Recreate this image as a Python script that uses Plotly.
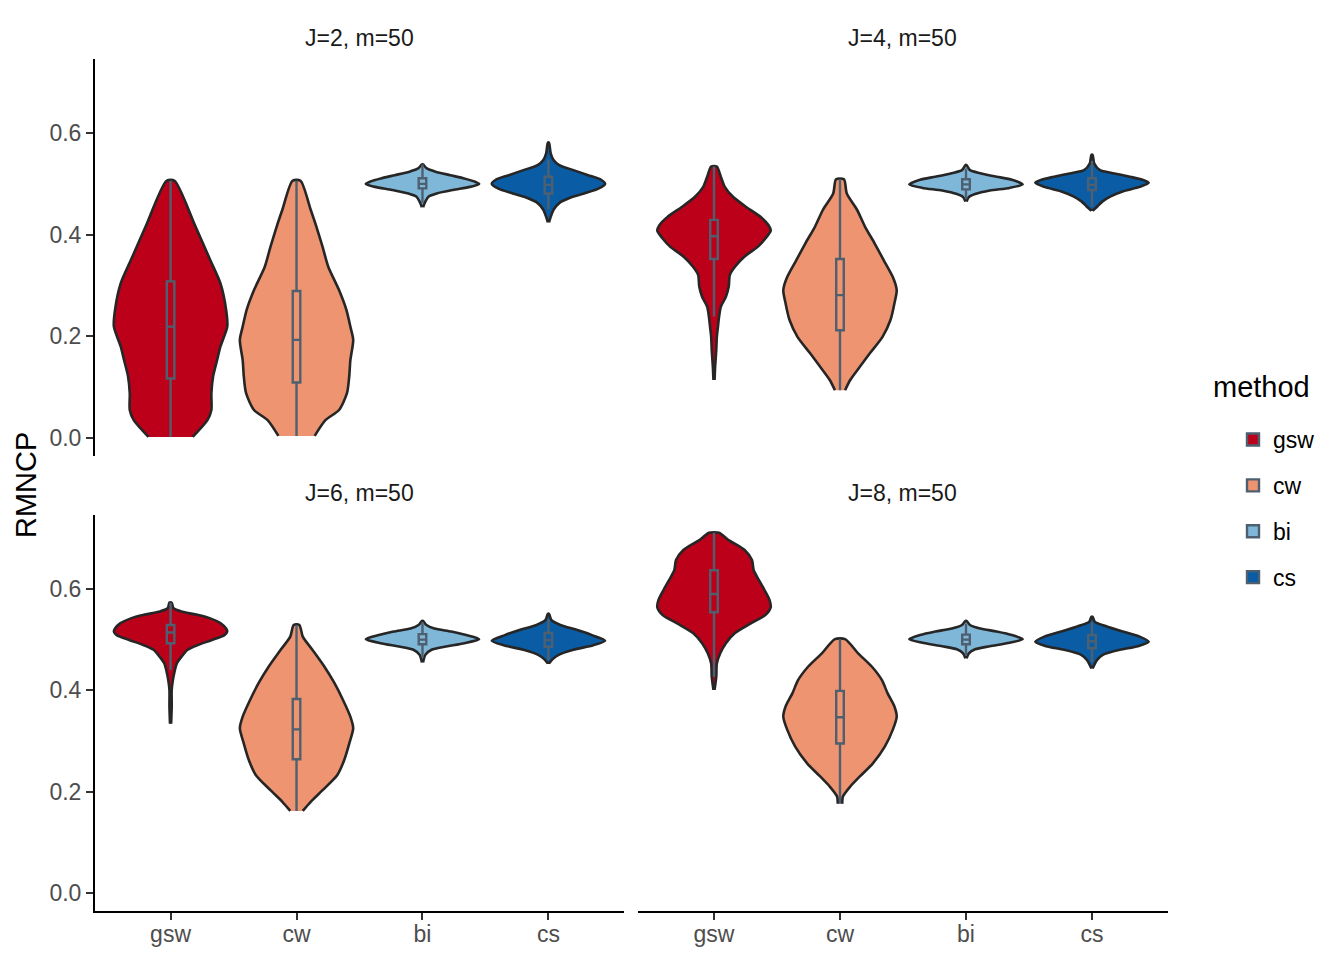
import plotly.graph_objects as go

# --- data ---------------------------------------------------------------
methods = ["gsw", "cw", "bi", "cs"]
panel_titles = ["J=2, m=50", "J=4, m=50", "J=6, m=50", "J=8, m=50"]
y_ticks = [0.0, 0.2, 0.4, 0.6]
y_tick_text = ["0.0", "0.2", "0.4", "0.6"]

# violin outlines: y levels and relative width (1 = widest part)
j2_gsw_y = [0.002, 0.035, 0.055, 0.088, 0.121, 0.153, 0.180, 0.219, 0.252, 0.304, 0.350, 0.416, 0.506]
j2_gsw_w = [0.39, 0.65, 0.72, 0.72, 0.75, 0.82, 0.88, 1.00, 0.98, 0.88, 0.70, 0.44, 0.07]
j2_cw_y = [0.004, 0.035, 0.055, 0.088, 0.121, 0.153, 0.193, 0.219, 0.252, 0.291, 0.337, 0.376, 0.416, 0.449, 0.506]
j2_cw_w = [0.32, 0.51, 0.75, 0.89, 0.93, 0.95, 1.00, 0.95, 0.88, 0.75, 0.56, 0.46, 0.35, 0.25, 0.07]
j2_bi_y = [0.454, 0.465, 0.475, 0.481, 0.488, 0.494, 0.500, 0.504, 0.511, 0.517, 0.524, 0.531, 0.538]
j2_bi_w = [0.01, 0.05, 0.11, 0.25, 0.54, 0.84, 1.00, 0.93, 0.72, 0.49, 0.23, 0.07, 0.01]
j2_cs_y = [0.424, 0.435, 0.449, 0.462, 0.472, 0.481, 0.491, 0.500, 0.508, 0.517, 0.527, 0.537, 0.547, 0.560, 0.581]
j2_cs_w = [0.01, 0.04, 0.09, 0.19, 0.37, 0.63, 0.89, 1.00, 0.93, 0.70, 0.44, 0.19, 0.09, 0.04, 0.01]

j4_gsw_y = [0.114, 0.140, 0.173, 0.199, 0.219, 0.239, 0.258, 0.278, 0.298, 0.321, 0.337, 0.357,
            0.376, 0.393, 0.408, 0.419, 0.435, 0.455, 0.475, 0.494, 0.514, 0.534]
j4_gsw_w = [0.01, 0.02, 0.04, 0.05, 0.07, 0.09, 0.12, 0.21, 0.26, 0.28, 0.37, 0.54,
            0.77, 0.91, 1.00, 0.96, 0.82, 0.56, 0.33, 0.19, 0.12, 0.05]
j4_cw_y = [0.094, 0.114, 0.140, 0.167, 0.199, 0.232, 0.265, 0.291, 0.317, 0.350, 0.383, 0.416, 0.449, 0.481, 0.509]
j4_cw_w = [0.09, 0.18, 0.35, 0.53, 0.75, 0.89, 0.96, 1.00, 0.93, 0.77, 0.61, 0.44, 0.30, 0.12, 0.07]
j4_bi_y = [0.465, 0.474, 0.480, 0.487, 0.492, 0.499, 0.508, 0.514, 0.521, 0.527, 0.537]
j4_bi_w = [0.01, 0.05, 0.16, 0.42, 0.77, 1.00, 0.81, 0.54, 0.25, 0.07, 0.01]
j4_cs_y = [0.447, 0.455, 0.465, 0.475, 0.485, 0.494, 0.502, 0.508, 0.514, 0.521, 0.527, 0.540, 0.557]
j4_cs_w = [0.01, 0.09, 0.18, 0.32, 0.54, 0.84, 1.00, 0.89, 0.67, 0.37, 0.14, 0.04, 0.01]

j6_gsw_y = [0.334, 0.368, 0.401, 0.420, 0.437, 0.453, 0.466, 0.480, 0.489, 0.499,
            0.509, 0.516, 0.522, 0.532, 0.542, 0.549, 0.555, 0.562, 0.573]
j6_gsw_w = [0.01, 0.02, 0.02, 0.04, 0.07, 0.11, 0.19, 0.30, 0.47, 0.72,
            0.95, 1.00, 0.98, 0.89, 0.70, 0.47, 0.21, 0.05, 0.02]
j6_cw_y = [0.162, 0.180, 0.203, 0.233, 0.262, 0.295, 0.325, 0.348, 0.381, 0.414, 0.447, 0.480, 0.506, 0.529]
j6_cw_w = [0.11, 0.25, 0.46, 0.72, 0.84, 0.93, 1.00, 0.95, 0.82, 0.67, 0.49, 0.28, 0.11, 0.05]
j6_bi_y = [0.455, 0.470, 0.480, 0.486, 0.493, 0.501, 0.509, 0.516, 0.522, 0.529, 0.537]
j6_bi_w = [0.01, 0.05, 0.16, 0.39, 0.74, 1.00, 0.77, 0.51, 0.21, 0.07, 0.01]
j6_cs_y = [0.453, 0.461, 0.470, 0.480, 0.489, 0.498, 0.509, 0.519, 0.529, 0.539, 0.551]
j6_cs_w = [0.01, 0.07, 0.18, 0.44, 0.79, 1.00, 0.77, 0.51, 0.21, 0.05, 0.01]

j8_gsw_y = [0.401, 0.427, 0.453, 0.473, 0.493, 0.513, 0.532, 0.549, 0.564,
            0.578, 0.598, 0.618, 0.637, 0.657, 0.677, 0.697, 0.711]
j8_gsw_w = [0.01, 0.04, 0.05, 0.11, 0.21, 0.37, 0.65, 0.91, 1.00,
            0.98, 0.89, 0.79, 0.70, 0.67, 0.54, 0.25, 0.09]
j8_cw_y = [0.176, 0.190, 0.210, 0.230, 0.256, 0.289, 0.322, 0.348, 0.368, 0.394, 0.420, 0.447, 0.473, 0.501]
j8_cw_w = [0.04, 0.05, 0.18, 0.35, 0.58, 0.79, 0.93, 1.00, 0.96, 0.84, 0.74, 0.56, 0.32, 0.09]
j8_bi_y = [0.463, 0.473, 0.481, 0.487, 0.494, 0.501, 0.509, 0.516, 0.522, 0.529, 0.537]
j8_bi_w = [0.01, 0.05, 0.16, 0.42, 0.77, 1.00, 0.81, 0.54, 0.25, 0.07, 0.01]
j8_cs_y = [0.443, 0.460, 0.470, 0.480, 0.487, 0.496, 0.506, 0.516, 0.526, 0.535, 0.545]
j8_cs_w = [0.01, 0.09, 0.19, 0.49, 0.81, 1.00, 0.84, 0.54, 0.26, 0.05, 0.01]

# box statistics per panel, in the order of `methods`
j2_q1 = [0.117, 0.109, 0.491, 0.481]
j2_med = [0.219, 0.193, 0.500, 0.498]
j2_q3 = [0.308, 0.289, 0.511, 0.514]
j2_lo = [0.002, 0.004, 0.462, 0.450]
j2_hi = [0.506, 0.506, 0.538, 0.548]

j4_q1 = [0.352, 0.212, 0.489, 0.488]
j4_med = [0.397, 0.281, 0.499, 0.498]
j4_q3 = [0.429, 0.352, 0.509, 0.511]
j4_lo = [0.239, 0.094, 0.470, 0.455]
j4_hi = [0.534, 0.509, 0.530, 0.545]

j6_q1 = [0.493, 0.264, 0.491, 0.486]
j6_med = [0.514, 0.323, 0.500, 0.499]
j6_q3 = [0.529, 0.383, 0.511, 0.513]
j6_lo = [0.440, 0.162, 0.465, 0.460]
j6_hi = [0.573, 0.529, 0.535, 0.540]

j8_q1 = [0.554, 0.295, 0.491, 0.483]
j8_med = [0.590, 0.347, 0.500, 0.497]
j8_q3 = [0.637, 0.399, 0.510, 0.509]
j8_lo = [0.427, 0.176, 0.468, 0.455]
j8_hi = [0.711, 0.501, 0.532, 0.535]

# --- styling -------------------------------------------------------------
FONT = "Liberation Sans"
fill_colors = ["#BC001A", "#EF9470", "#7FB7D9", "#0A5CA5"]
OUTLINE = "#262626"
BOX_LINE = "#4E6070"
HALF_WIDTH = 0.45
BOX_WIDTH = 0.06
Y_RANGE = [-0.0355, 0.7466]
X_RANGE = [0.4, 4.6]

# the page body adds an 8px margin, so the figure is drawn 16px smaller
PAGE_PAD = 8
FIG_W, FIG_H = 1344 - 2 * PAGE_PAD, 960 - 2 * PAGE_PAD


def px_x(px):
    return (px - PAGE_PAD) / FIG_W


def px_y(py):
    return 1 - (py - PAGE_PAD) / FIG_H


x_domains = [[px_x(95), px_x(624)], [px_x(638.4), px_x(1167.6)]]
y_domains = [[px_y(456), px_y(58.5)], [px_y(911), px_y(514.7)]]
strip_y = [px_y(38), px_y(493)]

panel_profiles = [
    [(j2_gsw_y, j2_gsw_w), (j2_cw_y, j2_cw_w), (j2_bi_y, j2_bi_w), (j2_cs_y, j2_cs_w)],
    [(j4_gsw_y, j4_gsw_w), (j4_cw_y, j4_cw_w), (j4_bi_y, j4_bi_w), (j4_cs_y, j4_cs_w)],
    [(j6_gsw_y, j6_gsw_w), (j6_cw_y, j6_cw_w), (j6_bi_y, j6_bi_w), (j6_cs_y, j6_cs_w)],
    [(j8_gsw_y, j8_gsw_w), (j8_cw_y, j8_cw_w), (j8_bi_y, j8_bi_w), (j8_cs_y, j8_cs_w)],
]
panel_boxes = [
    (j2_q1, j2_med, j2_q3, j2_lo, j2_hi),
    (j4_q1, j4_med, j4_q3, j4_lo, j4_hi),
    (j6_q1, j6_med, j6_q3, j6_lo, j6_hi),
    (j8_q1, j8_med, j8_q3, j8_lo, j8_hi),
]


def axis_suffix(n):
    return "" if n == 1 else str(n)


fig = go.Figure()

# violins on the base axes (1-4)
for p, profiles in enumerate(panel_profiles):
    sfx = axis_suffix(p + 1)
    for i, (ys, ws) in enumerate(profiles):
        pos = i + 1
        xs = [pos + HALF_WIDTH * w for w in ws] + [pos - HALF_WIDTH * w for w in reversed(ws)]
        yy = list(ys) + list(reversed(ys))
        fig.add_trace(
            go.Scatter(
                x=xs,
                y=yy,
                mode="lines",
                fill="toself",
                fillcolor=fill_colors[i],
                line=dict(color=OUTLINE, width=2.6, shape="spline", smoothing=0.7),
                xaxis="x" + sfx,
                yaxis="y" + sfx,
                showlegend=False,
                hoverinfo="skip",
            )
        )

# boxes on overlay axes (5-8) so they sit above the violins
for p, (q1, med, q3, lo, hi) in enumerate(panel_boxes):
    sfx = str(p + 5)
    for i, name in enumerate(methods):
        fig.add_trace(
            go.Box(
                x=[i + 1],
                q1=[q1[i]],
                median=[med[i]],
                q3=[q3[i]],
                lowerfence=[lo[i]],
                upperfence=[hi[i]],
                orientation="v",
                width=BOX_WIDTH,
                whiskerwidth=0,
                boxpoints=False,
                fillcolor=fill_colors[i],
                line=dict(color=BOX_LINE, width=2.4),
                name=name,
                legendgroup=name,
                showlegend=(p == 0),
                xaxis="x" + sfx,
                yaxis="y" + sfx,
                hoverinfo="skip",
            )
        )

layout = dict(
    width=FIG_W,
    height=FIG_H,
    margin=dict(l=0, r=0, t=0, b=0),
    paper_bgcolor="white",
    plot_bgcolor="white",
    font=dict(family=FONT, size=23, color="#4D4D4D"),
    legend=dict(
        x=px_x(1233),
        y=px_y(418),
        xanchor="left",
        yanchor="top",
        font=dict(size=23, color="black"),
        tracegroupgap=13,
        bgcolor="rgba(0,0,0,0)",
    ),
)

for p in range(4):
    n = p + 1
    row, col = divmod(p, 2)
    bottom = row == 1
    left = col == 0
    layout["xaxis" + axis_suffix(n)] = dict(
        domain=x_domains[col],
        range=X_RANGE,
        anchor="y" + axis_suffix(n),
        tickvals=[1, 2, 3, 4],
        ticktext=methods,
        showticklabels=bottom,
        showline=bottom,
        linecolor="black",
        linewidth=2,
        ticks="outside" if bottom else "",
        ticklen=7,
        tickwidth=1.5,
        tickcolor="#333333",
        ticklabelstandoff=-6,
        showgrid=False,
        zeroline=False,
        fixedrange=True,
    )
    layout["yaxis" + axis_suffix(n)] = dict(
        domain=y_domains[row],
        range=Y_RANGE,
        anchor="x" + axis_suffix(n),
        tickvals=y_ticks,
        ticktext=y_tick_text,
        showticklabels=left,
        showline=left,
        linecolor="black",
        linewidth=2,
        ticks="outside" if left else "",
        ticklen=7,
        tickwidth=1.5,
        tickcolor="#333333",
        showgrid=False,
        zeroline=False,
        fixedrange=True,
    )
    # overlay pair for the boxes
    layout["xaxis" + str(n + 4)] = dict(
        overlaying="x" + axis_suffix(n),
        range=X_RANGE,
        anchor="y" + str(n + 4),
        visible=False,
        fixedrange=True,
    )
    layout["yaxis" + str(n + 4)] = dict(
        overlaying="y" + axis_suffix(n),
        range=Y_RANGE,
        anchor="x" + str(n + 4),
        visible=False,
        fixedrange=True,
    )

annotations = []
for p, title in enumerate(panel_titles):
    row, col = divmod(p, 2)
    annotations.append(
        dict(
            text=title,
            x=sum(x_domains[col]) / 2,
            y=strip_y[row],
            xref="paper",
            yref="paper",
            xanchor="center",
            yanchor="middle",
            showarrow=False,
            font=dict(size=23, color="#1A1A1A"),
        )
    )
annotations.append(
    dict(
        text="RMNCP",
        x=px_x(26),
        y=px_y(485),
        xref="paper",
        yref="paper",
        xanchor="center",
        yanchor="middle",
        textangle=-90,
        showarrow=False,
        font=dict(size=29, color="black"),
    )
)
annotations.append(
    dict(
        text="method",
        x=px_x(1211),
        y=px_y(387),
        xref="paper",
        yref="paper",
        xanchor="left",
        yanchor="middle",
        showarrow=False,
        font=dict(size=29, color="black"),
    )
)
layout["annotations"] = annotations

fig.update_layout(**layout)
fig.write_html("out.html")
